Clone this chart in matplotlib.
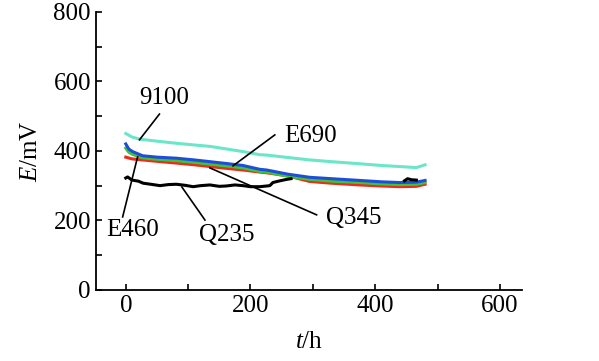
import numpy as np
import matplotlib.pyplot as plt
from matplotlib.ticker import MultipleLocator

plt.rcParams['font.family'] = 'Liberation Serif'
plt.rcParams['mathtext.fontset'] = 'custom'
plt.rcParams['mathtext.rm'] = 'Liberation Serif'
plt.rcParams['mathtext.it'] = 'Liberation Serif:italic'

# ---- data ----
t_9100 = [0, 10, 22, 50, 81, 110, 135, 160, 188, 215, 226, 260, 295, 330, 375, 410, 439, 466, 473, 480]
E_9100 = [450, 440, 434, 428, 422, 417, 413, 406, 398, 389, 388, 381, 374, 369, 363, 358, 355, 352, 356, 360]

t_e690 = [0, 5, 11, 27, 50, 81, 110, 135, 160, 188, 215, 226, 260, 295, 330, 375, 410, 439, 466, 480]
E_e690 = [420, 405, 398, 386, 382, 379, 374, 369, 364, 358, 347, 345, 333, 324, 320, 315, 311, 309, 310, 315]

t_e460 = [0, 5, 11, 27, 50, 81, 110, 135, 160, 188, 215, 226, 260, 295, 330, 375, 410, 439, 466, 480]
E_e460 = [408, 396, 390, 380, 376, 372, 367, 362, 357, 351, 341, 339, 327, 318, 313, 309, 305, 303, 304, 309]

t_q345 = [0, 10, 27, 50, 81, 110, 135, 160, 188, 215, 226, 260, 295, 330, 375, 410, 439, 466, 480]
E_q345 = [382, 377, 374, 370, 365, 360, 355, 350, 345, 339, 337, 328, 312, 307, 302, 299, 297, 298, 304]

t_q235 = [0, 3, 10, 20, 28, 40, 55, 68, 81, 95, 108, 120, 135, 150, 161, 175, 188, 200, 215, 226, 231, 236, 245, 258, 265]
E_q235 = [322, 325, 316, 313, 307, 304, 300, 303, 304, 301, 297, 300, 302, 298, 299, 302, 300, 297, 297, 299, 300, 309, 313, 318, 320]

t_q235b = [447, 452, 458, 466]
E_q235b = [314, 320, 317, 316]

series = [
    (t_9100, E_9100, '#6be6c8'),
    (t_q345, E_q345, '#ec2b1c'),
    (t_e460, E_e460, '#3cc43a'),
    (t_e690, E_e690, '#1f4ed6'),
    (t_q235, E_q235, 'black'),
    (t_q235b, E_q235b, 'black'),
]

# label, text position, arrow tip, line start
labels = [
    ('9100', (62, 552), (22, 432), (54, 506)),
    ('E690', (297, 443), (172, 357), (239, 446)),
    ('Q345', (366, 207), (135, 351), (306, 216)),
    ('E460', (11, 173), (19, 383), (-5, 210)),
    ('Q235', (162, 158), (90, 296), (127, 201)),
]

fig, ax = plt.subplots(figsize=(5.99, 3.61), dpi=100)
fig.subplots_adjust(left=0.16, right=0.871, bottom=0.197, top=0.967)

for t, E, c in series:
    ax.plot(t, E, color=c, linewidth=2.2)

for name, txt, tip, start in labels:
    ax.plot([start[0], tip[0]], [start[1], tip[1]], color='black', linewidth=1.2)
    ax.text(txt[0], txt[1], name, fontsize=18, ha='center', va='center')

ax.set_xlim(-48, 635)
ax.set_ylim(0, 800)
ax.xaxis.set_major_locator(MultipleLocator(200))
ax.xaxis.set_minor_locator(MultipleLocator(100))
ax.yaxis.set_major_locator(MultipleLocator(200))
ax.yaxis.set_minor_locator(MultipleLocator(100))
ax.tick_params(which='both', direction='in', labelsize=18, width=1.2, length=4)
ax.spines['top'].set_visible(False)
ax.spines['right'].set_visible(False)
ax.spines['left'].set_linewidth(1.3)
ax.spines['bottom'].set_linewidth(1.3)

ax.set_xlabel(r'$t$/h', fontsize=18, labelpad=10)
ax.set_ylabel(r'$E$/mV', fontsize=18, labelpad=8)

fig.savefig('out.png')
